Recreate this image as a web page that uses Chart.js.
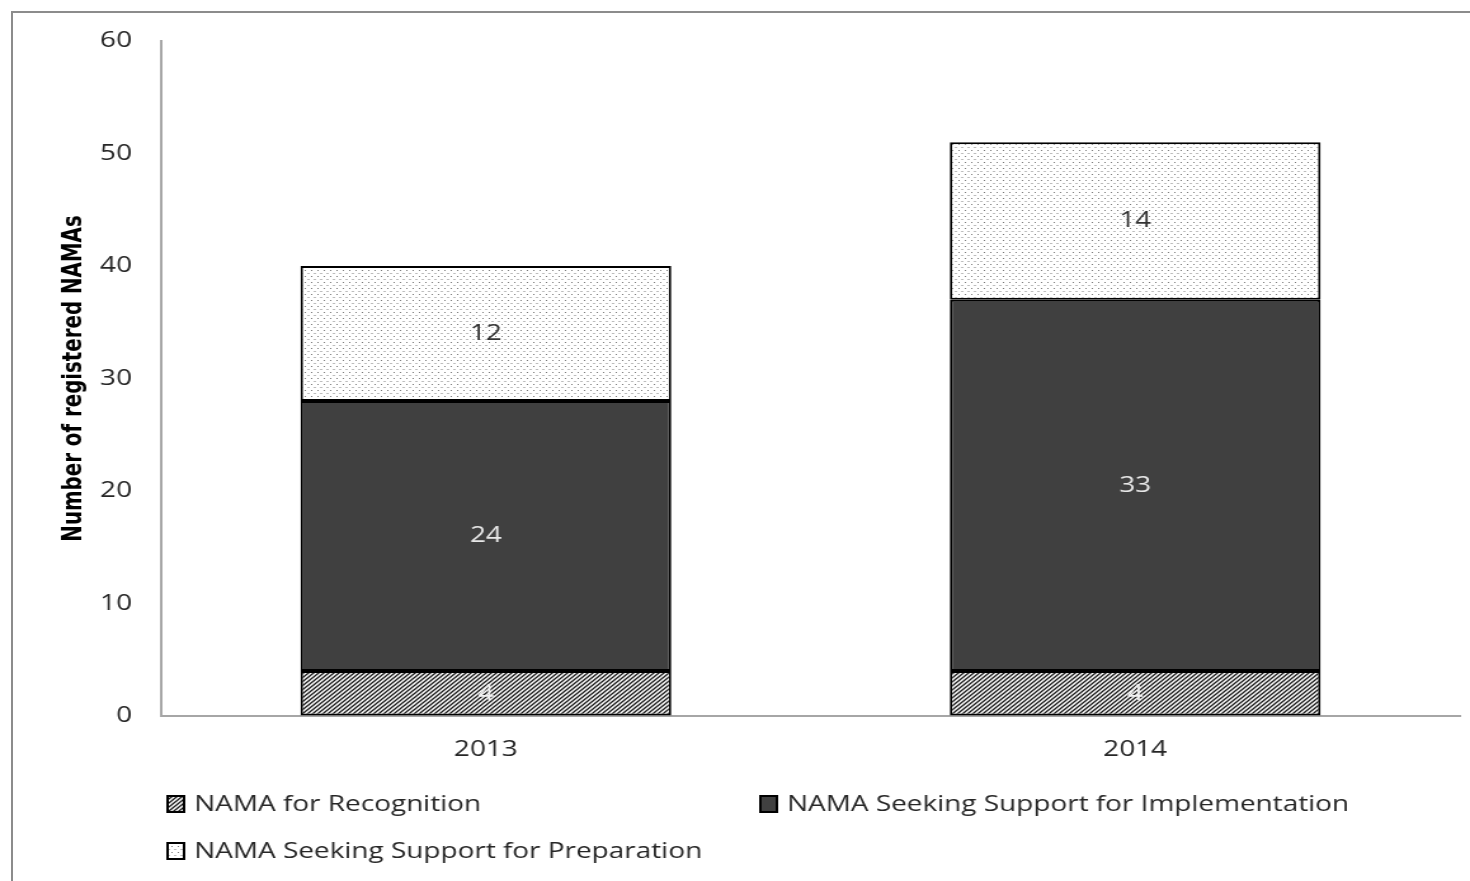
<!DOCTYPE html>
<html>
<head>
<meta charset="utf-8">
<script src="https://cdn.jsdelivr.net/npm/chart.js@4.4.1/dist/chart.umd.min.js"></script>
<style>
  html, body { margin: 0; padding: 0; background: #fff; }
  #wrap { position: relative; width: 1470px; height: 881px; overflow: hidden; }
  #frame { position: absolute; left: 11px; top: 11px; right: -5px; bottom: -5px;
           border-left: 2px solid #8c8c8c; border-top: 2px solid #8c8c8c; }
  canvas { position: absolute; left: 0; top: 0; }
</style>
</head>
<body>
<div id="wrap">
  <div id="frame"></div>
  <!-- the original picture is stretched sideways, so the canvas is drawn narrow and widened by css -->
  <canvas id="namaChart" width="1158" height="881" style="width:1470px;height:881px"></canvas>
</div>
<script>
// data
const years = ['2013', '2014'];
const recognition = [4, 4];
const implementation = [24, 33];
const preparation = [12, 14];
const seriesNames = ['NAMA for Recognition', 'NAMA Seeking Support for Implementation', 'NAMA Seeking Support for Preparation'];
const yTicks = [0, 10, 20, 30, 40, 50, 60];

const FONT = '"Open Sans", "DejaVu Sans", sans-serif';

function hatchPattern(ctx) {
    const c = document.createElement('canvas');
    c.width = 4; c.height = 4;
    const p = c.getContext('2d');
    p.fillStyle = '#ffffff';
    p.fillRect(0, 0, 4, 4);
    p.strokeStyle = '#1a1a1a';
    p.lineWidth = 1.3;
    p.beginPath();
    p.moveTo(-1, 5); p.lineTo(5, -1);
    p.moveTo(-1, 1); p.lineTo(1, -1);
    p.moveTo(3, 5); p.lineTo(5, 3);
    p.stroke();
    return ctx.createPattern(c, 'repeat');
}

function dotPattern(ctx) {
    const c = document.createElement('canvas');
    c.width = 5; c.height = 6;
    const p = c.getContext('2d');
    p.fillStyle = '#ffffff';
    p.fillRect(0, 0, 5, 6);
    p.fillStyle = '#7a7a7a';
    p.fillRect(0, 0, 1, 1);
    p.fillRect(2.5, 3, 1, 1);
    return ctx.createPattern(c, 'repeat');
}

const chartEl = document.getElementById('namaChart');
const ctx = chartEl.getContext('2d');
const fills = [hatchPattern(ctx), '#404040', dotPattern(ctx)];
const labelColors = ['#f2f2f2', '#e8e8e8', '#333333'];

// values in the middle of each segment
const segmentLabels = {
    id: 'segmentLabels',
    afterDatasetsDraw(chart) {
        const c = chart.ctx;
        c.save();
        c.font = '22px ' + FONT;
        c.textAlign = 'center';
        c.textBaseline = 'middle';
        chart.data.datasets.forEach((ds, i) => {
            chart.getDatasetMeta(i).data.forEach((bar, j) => {
                const mid = (bar.y + bar.base) / 2;
                c.fillStyle = labelColors[i];
                c.fillText(String(ds.data[j]), bar.x, mid);
            });
        });
        c.restore();
    }
};

// legend in two columns like the original
const gridLegend = {
    id: 'gridLegend',
    afterDraw(chart) {
        const c = chart.ctx;
        const spots = [[132, 804], [599, 804], [132, 851]];
        c.save();
        c.font = '22px ' + FONT;
        c.textBaseline = 'middle';
        chart.data.datasets.forEach((ds, i) => {
            const [x, y] = spots[i];
            c.fillStyle = ds.backgroundColor;
            c.fillRect(x, y - 8, 13, 16);
            c.strokeStyle = '#000';
            c.lineWidth = 2;
            c.strokeRect(x, y - 8, 13, 16);
            c.fillStyle = '#262626';
            c.fillText(ds.label, x + 21, y + 1);
        });
        c.restore();
    }
};

new Chart(chartEl, {
    type: 'bar',
    data: {
        labels: years,
        datasets: [recognition, implementation, preparation].map((vals, i) => ({
            label: seriesNames[i],
            data: vals,
            backgroundColor: fills[i],
            borderColor: '#000000',
            borderWidth: 2,
            borderSkipped: false,
            categoryPercentage: 1,
            barPercentage: 0.571
        }))
    },
    options: {
        responsive: false,
        animation: false,
        layout: { padding: { top: 41, right: 8, left: 0, bottom: 0 } },
        plugins: { legend: { display: false }, tooltip: { enabled: false } },
        scales: {
            x: {
                stacked: true,
                grid: { color: 'rgba(0,0,0,0)', drawTicks: false },
                border: { color: '#a6a6a6', width: 2 },
                ticks: { color: '#262626', font: { family: FONT, size: 22 }, padding: 21 },
                afterFit: s => { s.height = 165; }
            },
            y: {
                stacked: true,
                min: 0,
                max: 60,
                afterBuildTicks: s => { s.ticks = yTicks.map(v => ({ value: v })); },
                grid: { color: 'rgba(0,0,0,0)', drawTicks: false },
                border: { color: '#a6a6a6', width: 2 },
                ticks: { color: '#262626', font: { family: FONT, size: 22 }, padding: 23 },
                title: {
                    display: true,
                    text: 'Number of registered NAMAs',
                    color: '#000',
                    font: { family: '"Liberation Sans Narrow", "DejaVu Sans Condensed", sans-serif', size: 22, weight: 'bold' },
                    padding: { top: 45, bottom: 0 }
                },
                afterFit: s => { s.width = 127; }
            }
        }
    },
    plugins: [segmentLabels, gridLegend]
});
</script>
</body>
</html>
